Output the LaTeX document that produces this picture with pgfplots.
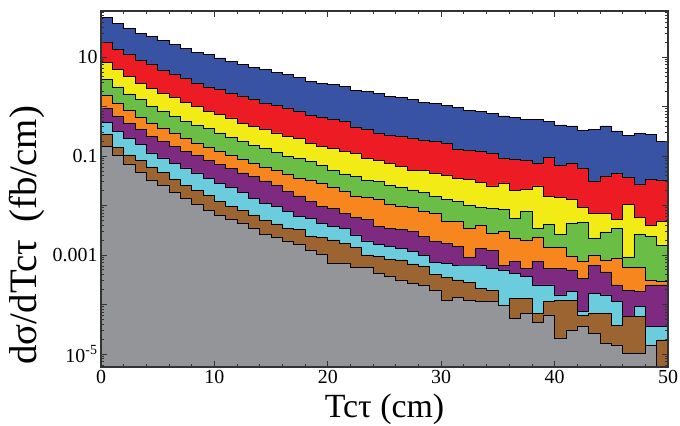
\documentclass[border=0pt]{standalone}
\usepackage{pgfplots}
\usepackage{pgfplotstable}
\pgfplotsset{compat=1.18}
\usepackage{fontspec}
\setmainfont{Liberation Serif}

\definecolor{cblue}{HTML}{3953A4}
\definecolor{cred}{HTML}{ED1C24}
\definecolor{cyellow}{HTML}{F2EB16}
\definecolor{cgreen}{HTML}{6ABD45}
\definecolor{corange}{HTML}{F7861F}
\definecolor{cpurple}{HTML}{7E2A80}
\definecolor{ccyan}{HTML}{6ACCDD}
\definecolor{cbrown}{HTML}{9C6430}
\definecolor{cgray}{HTML}{939598}

% one row per bin (left edge), last row repeats bin 49 to close the step
\pgfplotstableread{
x  blue   red     yellow   green     orange    purple    cyan      brown     gray
0  63.4   19.8    7.82     3.48      1.68      0.903     0.486     0.269     0.157
1  48.6   14.0    5.54     2.48      1.14      0.634     0.316     0.152     0.105
2  37.3   11.1    4.07     1.79      0.822     0.464     0.231     0.105     0.0689
3  30.5   8.58    2.98     1.37      0.605     0.340     0.169     0.0804    0.0460
4  26.2   6.98    2.36     1.01      0.464     0.250     0.115     0.0600    0.0327
5  21.3   5.38    1.87     0.800     0.368     0.198     0.0912    0.0460    0.0259
6  17.7   4.39    1.53     0.634     0.292     0.157     0.0722    0.0338    0.0182
7  14.7   3.65    1.22     0.502     0.231     0.124     0.0573    0.0259    0.0140
8  12.6   2.98    1.01     0.417     0.183     0.101     0.0454    0.0201    0.0107
9  11.1   2.48    0.800    0.356     0.150     0.0818    0.0351    0.0158    0.00811
10 9.55   2.18    0.683    0.292     0.124     0.0667    0.0278    0.0119    0.00643
11 8.19   1.87    0.586    0.239     0.101     0.0553    0.0231    0.00977   0.00526
12 6.98   1.61    0.464    0.198     0.0841    0.0454    0.0187    0.00785   0.00437
13 6.19   1.37    0.398    0.164     0.0722    0.0389    0.0140    0.00643   0.00346
14 5.54   1.18    0.340    0.140     0.0591    0.0313    0.0111    0.00509   0.00265
15 4.91   1.06    0.292    0.120     0.0505    0.0259    0.00946   0.00423   0.00228
16 4.39   0.933   0.250    0.0986    0.0423    0.0196    0.00774   0.00346   0.00192
17 3.82   0.785   0.228    0.0899    0.0354    0.0156    0.00594   0.00330   0.00164
18 3.27   0.673   0.181    0.0767    0.0317    0.0123    0.00551   0.00234   0.00126
19 2.94   0.594   0.154    0.0658    0.0281    0.00977   0.00437   0.00228   0.00103
20 2.81   0.551   0.143    0.0521    0.0233    0.00877   0.00373   0.00201   0.000679
21 2.51   0.493   0.122    0.0433    0.0190    0.00695   0.00346   0.00172   0.000679
22 2.15   0.380   0.113    0.0382    0.0156    0.00568   0.00254   0.00140   0.000553
23 1.99   0.351   0.0899   0.0327    0.0147    0.00526   0.00192   0.00100   0.000553
24 1.85   0.288   0.0830   0.0303    0.0133    0.00373   0.00164   0.000925  0.000427
25 1.63   0.265   0.0713   0.0259    0.0107    0.00346   0.00147   0.000830  0.000365
26 1.53   0.245   0.0608   0.0233    0.00946   0.00330   0.00136   0.000793  0.000313
27 1.40   0.228   0.0521   0.0206    0.00920   0.00296   0.00117   0.000658  0.000268
28 1.22   0.210   0.0505   0.0182    0.00750   0.00234   0.000968  0.000581  0.000240
29 1.16   0.195   0.0448   0.0151    0.00695   0.00186   0.000713  0.000407  0.000196
30 1.07   0.181   0.0413   0.0133    0.00471   0.00172   0.000679  0.000348  0.000123
31 0.964  0.137   0.0354   0.0119    0.00486   0.00147   0.000628  0.000313  0.000140
32 0.822  0.132   0.0338   0.0102    0.00351   0.000881  0.000628  0.000281  0.000123
33 0.785  0.122   0.0289   0.00912   0.00404   0.00136   0.000628  0.000212  0.000118
34 0.729  0.113   0.0248   0.00877   0.00274   0.00126   0.000538  0.000196  0.000118
35 0.643  0.0899  0.0281   0.00849   0.00305   0.000628  0.000498  0.0000933 0.0000977
36 0.594  0.0869  0.0199   0.00551   0.00217   0.000733  0.000427  0.000133  0.0000526
37 0.559  0.0830  0.0212   0.00750   0.00201   0.000538  0.000365  0.000133  0.0000664
38 0.546  0.0713  0.0248   0.00351   0.00223   0.000733  0.000248  0.0000664 0.0000437
39 0.509  0.0942  0.0151   0.00417   0.00140   0.000538  0.000248  0.000114  0.0000614
40 0.423  0.0658  0.0144   0.00262   0.00140   0.000538  0.000156  0.000123  0.0000207
41 0.404  0.0713  0.0135   0.00437   0.000955  0.000498  0.000182  0.000123  0.0000305
42 0.324  0.0565  0.00920  0.00458   0.000757  0.000343  0.0000716 0.0000594 0.0000356
43 0.340  0.0313  0.00695  0.00220   0.000968  0.000628  0.000168  0.0000664 0.0000262
44 0.404  0.0382  0.00695  0.00292   0.000793  0.000454  0.000156  0.0000664 0.0000164
45 0.320  0.0448  0.00533  0.00351   0.000857  0.000248  0.000114  0.0000385 0.0000152
46 0.257  0.0372  0.0107   0.000912  0.000553  0.000196  0.0000486 0.0000568 0.0000103
47 0.288  0.0272  0.00578  0.00262   0.000553  0.000187  0.0000904 0.0000568 0.0000103
48 0.274  0.0343  0.00398  0.00234   0.000313  0.000248  0.0000356 0.0000120 0.0000152
49 0.195  0.0327  0.00486  0.00156   0.000289  0.000248  0.0000356 0.0000192 0.000003
50 0.195  0.0327  0.00486  0.00156   0.000289  0.000248  0.0000356 0.0000192 0.000003
}\hist

\begin{document}
\begin{tikzpicture}
\path[use as bounding box] (-101bp,-59bp) rectangle (579bp,367bp);
\begin{axis}[
	width=567bp, height=356bp, scale only axis,
	ymode=log, log origin y=infty,
	xmin=0, xmax=50, ymin=5.46e-6, ymax=85,
	xtick={0,10,...,50}, minor x tick num=4,
	ytick={1e-5,1e-4,1e-3,1e-2,1e-1,1,10},
	yticklabels={10\textsuperscript{-5},,0.001,,0.1,,10},
	minor ytick={6e-6,7e-6,8e-6,9e-6,
		2e-5,3e-5,4e-5,5e-5,6e-5,7e-5,8e-5,9e-5,
		2e-4,3e-4,4e-4,5e-4,6e-4,7e-4,8e-4,9e-4,
		2e-3,3e-3,4e-3,5e-3,6e-3,7e-3,8e-3,9e-3,
		2e-2,3e-2,4e-2,5e-2,6e-2,7e-2,8e-2,9e-2,
		0.2,0.3,0.4,0.5,0.6,0.7,0.8,0.9,
		2,3,4,5,6,7,8,9,20,30,40,50,60,70,80},
	tick align=inside,
	major tick length=6bp, minor tick length=3bp,
	axis on top,
	axis line style={line width=1.2bp, color=black!80},
	tick style={line width=0.8bp, color=black!80},
	tick label style={font=\fontsize{20}{20}\selectfont},
	/pgf/number format/assume math mode=true,
	xlabel={Tcτ (cm)},
	ylabel={dσ/dTcτ\hspace{0.45em}(fb/cm)},
	xlabel style={font=\fontsize{34}{34}\selectfont, at={(axis description cs:0.5,-0.143)}, anchor=base},
	ylabel style={font=\fontsize{39}{39}\selectfont, at={(axis description cs:-0.113,0.37)}, anchor=base},
	every axis plot/.append style={const plot mark left, mark=none, draw=black, line width=0.8bp},
	]
	\addplot[fill=cblue] table[x=x,y=blue]{\hist} \closedcycle;
	\addplot[fill=cred] table[x=x,y=red]{\hist} \closedcycle;
	\addplot[fill=cyellow] table[x=x,y=yellow]{\hist} \closedcycle;
	\addplot[fill=cgreen] table[x=x,y=green]{\hist} \closedcycle;
	\addplot[fill=corange] table[x=x,y=orange]{\hist} \closedcycle;
	\addplot[fill=cpurple] table[x=x,y=purple]{\hist} \closedcycle;
	\addplot[fill=ccyan] table[x=x,y=cyan]{\hist} \closedcycle;
	\addplot[fill=cbrown] table[x=x,y=brown]{\hist} \closedcycle;
	\addplot[fill=cgray] table[x=x,y=gray]{\hist} \closedcycle;
\end{axis}
\end{tikzpicture}
\end{document}
